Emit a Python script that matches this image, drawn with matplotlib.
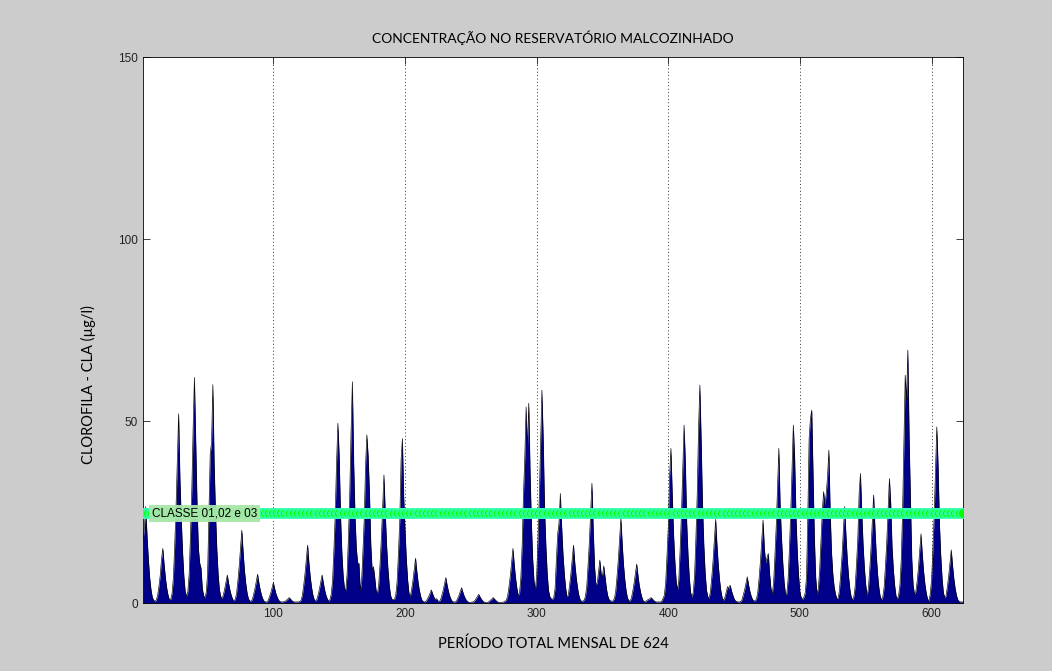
import numpy as np
import matplotlib
matplotlib.use("Agg")
import matplotlib.pyplot as plt

# clorofila-a mensal (ug/l), um ano (12 meses) por linha, 52 anos = 624 meses
clorofila_por_ano = [
    [17, 21, 26.5, 18.5, 12, 7, 3.7, 1.6, 0.8, 0.5, 0.8, 2],
    [4.5, 7.5, 12, 15, 10.5, 6.8, 4, 2.1, 0.9, 1, 2.6, 6.8],
    [15.6, 26, 39, 52, 34, 23, 14, 7.3, 3.1, 1.9, 3.1, 8],
    [18.6, 31, 47.8, 62, 44.3, 27, 15, 11, 9.6, 4, 2, 1.5],
    [3, 8, 25, 41, 44, 60, 38, 25, 15, 8, 3.6, 1.8],
    [1.2, 2.3, 3.9, 5.8, 7.7, 5.4, 3.5, 2.1, 1.1, 0.6, 1, 2.6],
    [6, 10, 15, 20, 14, 9, 5.4, 2.8, 1.2, 0.6, 0.5, 1],
    [2.4, 4, 5.9, 7.9, 5.5, 3.6, 2.1, 1.1, 0.5, 0.3, 0.3, 0.7],
    [1.7, 2.8, 4.2, 5.6, 3.9, 2.5, 1.5, 0.8, 0.4, 0.3, 0.3, 0.4],
    [0.5, 0.8, 1.1, 1.5, 1.1, 0.7, 0.4, 0.3, 0.3, 0.3, 0.3, 0.4],
    [0.8, 2.1, 4.8, 8, 12, 15.9, 11, 7.2, 4.3, 2.2, 1, 0.5],
    [1, 2.3, 3.9, 5.8, 7.7, 5.4, 3.5, 2.1, 1.1, 0.5, 1, 2.5],
    [6.4, 14.8, 24.7, 38.8, 49.4, 40.2, 24, 14, 7.5, 4, 3.5, 8],
    [18, 30, 47, 60.8, 38.4, 24, 15, 11, 10.9, 3.5, 6, 14],
    [23, 37.5, 46.2, 40.2, 30, 16, 9, 10, 7, 3.5, 2.5, 5],
    [10.6, 17.6, 26.4, 35.2, 24.6, 15.8, 9.5, 4.9, 2.1, 1.1, 1, 1],
    [2.3, 5.9, 13.6, 22.6, 39.3, 45.2, 29.2, 20, 12, 6.3, 2.7, 1.8],
    [3.7, 6.2, 9.2, 12.3, 8.6, 5.5, 3.3, 1.7, 0.7, 0.4, 0.3, 0.5],
    [1.1, 1.8, 2.7, 3.6, 2.5, 1.6, 1, 1.2, 0.6, 0.4, 0.9, 2.1],
    [3.5, 5.3, 7, 4.9, 3.2, 1.9, 1, 0.4, 0.3, 0.3, 0.5, 1.3],
    [2.1, 3.2, 4.2, 2.9, 1.9, 1.1, 0.6, 0.3, 0.2, 0.2, 0.3, 0.3],
    [0.7, 1.2, 1.8, 2.4, 1.7, 1.1, 0.6, 0.3, 0.2, 0.2, 0.2, 0.5],
    [0.8, 1.1, 1.5, 1.1, 0.7, 0.4, 0.2, 0.2, 0.2, 0.2, 0.3, 0.5],
    [0.8, 2, 4.5, 7.5, 11.3, 15, 10.5, 6.8, 4, 2.1, 2.7, 7],
    [16, 30, 40, 53.9, 42, 54.9, 36, 22, 12, 6, 3.5, 7.6],
    [17.5, 29, 44, 58.5, 44.8, 26, 15.8, 8.2, 3.5, 1.8, 1.2, 1],
    [1.5, 4, 12, 19, 22, 30.1, 21, 13.5, 8.1, 4.2, 1.8, 2.1],
    [4.8, 8, 12, 15.9, 11, 7.2, 4.3, 2.2, 1, 0.5, 0.5, 0.8],
    [1.7, 4.3, 10, 16.5, 24.7, 32.9, 20, 10, 5, 5.5, 8.5, 11.8],
    [8, 7.5, 10.2, 7, 4, 2, 1, 0.6, 0.5, 0.6, 1.2, 3],
    [7, 11.7, 17.5, 23.3, 16.3, 10.5, 6.3, 3.3, 1.4, 0.7, 0.5, 1.4],
    [3.2, 5.4, 8, 10.7, 7.5, 4.8, 2.9, 1.5, 0.6, 0.3, 0.5, 0.8],
    [1, 1.2, 1.5, 1.1, 0.7, 0.4, 0.3, 0.3, 0.3, 0.3, 0.5, 1.3],
    [2.1, 5.5, 12.8, 21, 34.7, 42.5, 30, 19, 11.5, 6, 3.5, 6.4],
    [14.7, 24.5, 36.7, 48.9, 38.4, 22, 13.2, 6.8, 2.9, 1.5, 3, 7.8],
    [18, 30, 48, 59.9, 44.3, 27, 16, 8.4, 3.6, 1.8, 1.3, 3],
    [6.9, 11.5, 17.3, 23, 16, 10.4, 6.2, 3.2, 1.4, 0.7, 1.5, 3],
    [4.5, 4, 4.9, 3.4, 2.2, 1.2, 0.6, 0.4, 0.3, 0.3, 0.4, 0.9],
    [2.2, 3.6, 5.4, 7.2, 5, 3.2, 1.9, 1, 0.6, 0.6, 1.1, 3],
    [6.8, 11.4, 17.1, 22.8, 15, 11, 12.5, 13.6, 8, 4, 2.5, 5.5],
    [12.8, 21, 32, 42.5, 26.5, 18, 11, 5.8, 2.5, 2.4, 6.4, 14.7],
    [24.5, 36.7, 48.9, 40, 24, 14, 7.5, 3, 1.5, 1, 1.6, 2.7],
    [7, 24, 45.2, 50.7, 53, 35, 18, 7, 2.5, 4, 9, 17],
    [25, 30.6, 27, 30, 34.7, 42, 25, 14, 8, 4.5, 2.5, 1.3],
    [1.3, 3.4, 8, 13, 20, 26.5, 18.5, 12, 7.2, 3.7, 1.6, 0.9],
    [1.8, 4.6, 10.7, 17.8, 30.1, 35.6, 25, 16, 9.6, 5, 2.1, 3.9],
    [8.9, 14.9, 22.3, 29.7, 20.8, 13.4, 8, 4.2, 1.8, 0.9, 1.7, 4.4],
    [10.3, 17, 25.6, 34.2, 27.4, 15.4, 9.2, 4.8, 2, 1, 2.2, 5],
    [12, 25, 43.4, 62.6, 55.8, 69.5, 45, 28, 12, 5, 2.5, 3],
    [5.7, 9.5, 14.3, 19, 13.3, 8.6, 5.1, 2.7, 1.1, 0.6, 2.4, 6.3],
    [14.5, 24, 36.3, 48.4, 37.5, 21.8, 13, 6.8, 2.9, 1.5, 1.9, 4.4],
    [7.3, 11, 14.6, 10.2, 6.6, 3.9, 2, 0.9, 0.4, 0.3, 0.3, 0.3],
]

limite_classe = 24.6          # CLASSE 01,02 e 03
rotulo_classe = "CLASSE 01,02 e 03"
xticks = [100, 200, 300, 400, 500, 600]
yticks = [0, 50, 100, 150]

cla = np.array(clorofila_por_ano).ravel()
meses = np.arange(1, len(cla) + 1)

fig = plt.figure(figsize=(10.52, 6.71), dpi=100, facecolor='#cccccc')
ax = fig.add_axes([0.136, 0.1013, 0.7795, 0.8137])
ax.set_facecolor('white')

ax.fill_between(meses, cla, 0, color='#000088', linewidth=0, zorder=2)
ax.plot(meses, cla, color='black', lw=0.45, zorder=3)

# linha do limite de classe
ax.plot(meses, np.full(len(meses), limite_classe), color='#00ee00', lw=5,
        marker='o', ms=7, mfc='#00ff00', mec='#40ffd0', mew=0.5, zorder=4)
ax.text(8, limite_classe, rotulo_classe, fontsize=8.5, family='Liberation Sans',
        va='center', ha='left', zorder=5,
        bbox=dict(boxstyle='square,pad=0.25', fc='#a8e6a8', ec='none', alpha=0.95))

ax.set_xlim(1, 624)
ax.set_ylim(0, 150)
ax.set_xticks(xticks)
ax.set_yticks(yticks)
ax.xaxis.grid(True, linestyle=(0, (1, 2.5)), color='#333333', lw=0.7)
ax.set_axisbelow(True)
ax.tick_params(direction='in', top=True, right=True, length=5, width=0.6,
               labelsize=8.5, colors='#222222')
for lab in ax.get_xticklabels() + ax.get_yticklabels():
    lab.set_family('Liberation Sans')
for s in ax.spines.values():
    s.set_linewidth(0.6)

ax.set_title("CONCENTRAÇÃO NO RESERVATÓRIO MALCOZINHADO", fontsize=10,
             family='Lato', pad=10)
ax.set_xlabel("PERÍODO TOTAL MENSAL DE 624", fontsize=10.5, family='Lato',
              labelpad=12)
ax.set_ylabel("CLOROFILA - CLA (µg/l)", fontsize=10.5, family='Lato',
              labelpad=20)
ax.yaxis.set_label_coords(-0.058, 0.40)

fig.savefig("out.png", dpi=100, facecolor=fig.get_facecolor())
